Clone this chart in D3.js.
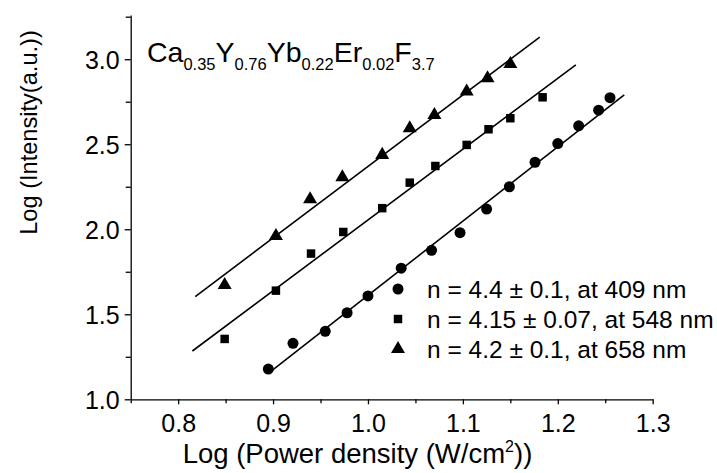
<!DOCTYPE html>
<html>
<head>
<meta charset="utf-8">
<script src="https://cdn.jsdelivr.net/npm/d3@7"></script>
<style>
  body { margin: 0; background: #fff; }
  svg { font-family: "Liberation Sans", Arial, sans-serif; }
</style>
</head>
<body>
<svg id="chart" width="717" height="473"></svg>
<script>
// data
const circleX = [0.895, 0.921, 0.955, 0.978, 1.000, 1.035, 1.067, 1.097, 1.125, 1.149, 1.176, 1.200, 1.222, 1.243, 1.255];
const circleY = [1.178, 1.329, 1.400, 1.509, 1.608, 1.771, 1.876, 1.980, 2.119, 2.250, 2.394, 2.504, 2.608, 2.700, 2.774];
const squareX = [0.849, 0.903, 0.940, 0.974, 1.015, 1.044, 1.071, 1.104, 1.127, 1.150, 1.184];
const squareY = [1.355, 1.639, 1.857, 1.984, 2.124, 2.274, 2.372, 2.496, 2.588, 2.653, 2.776];
const triX = [0.849, 0.903, 0.939, 0.973, 1.015, 1.044, 1.070, 1.104, 1.126, 1.150];
const triY = [1.672, 1.960, 2.176, 2.306, 2.437, 2.594, 2.672, 2.810, 2.888, 2.972];

// fitted lines, end points
const circleFit = [[0.895, 1.153], [1.270, 2.790]];
const squareFit = [[0.815, 1.284], [1.219, 2.967]];
const triFit = [[0.818, 1.604], [1.181, 3.130]];

const xTicks = [0.8, 0.9, 1.0, 1.1, 1.2, 1.3];
const xMinor = [0.75, 0.85, 0.95, 1.05, 1.15, 1.25];
const yTicks = [1.0, 1.5, 2.0, 2.5, 3.0];
const yMinor = [1.25, 1.75, 2.25, 2.75, 3.25];

const legendLabels = ["n = 4.4 \u00b1 0.1, at 409 nm", "n = 4.15 \u00b1 0.07, at 548 nm", "n = 4.2 \u00b1 0.1, at 658 nm"];
const legendSymbols = ["circle", "square", "triangle"];

const svg = d3.select("#chart");
const margin = {left: 130.7, right: 652.7, top: 15, bottom: 399.3};

const x = d3.scaleLinear().domain([0.75, 1.3]).range([margin.left, margin.right]);
const y = d3.scaleLinear().domain([1.0, 3.26]).range([margin.bottom, margin.top]);

// axes
const xAxisG = svg.append("g").attr("transform", "translate(0," + margin.bottom + ")");
xAxisG.call(d3.axisBottom(x).tickValues(xTicks).tickFormat(d3.format(".1f")).tickSizeInner(5).tickSizeOuter(0).tickPadding(10));
const xMinorG = svg.append("g").attr("transform", "translate(0," + margin.bottom + ")");
xMinorG.call(d3.axisBottom(x).tickValues(xMinor).tickFormat("").tickSizeInner(4).tickSizeOuter(0));
xMinorG.select(".domain").remove();

const yAxisG = svg.append("g").attr("transform", "translate(" + margin.left + ",0)");
yAxisG.call(d3.axisLeft(y).tickValues(yTicks).tickFormat(d3.format(".1f")).tickSizeInner(6).tickSizeOuter(0).tickPadding(5));
const yMinorG = svg.append("g").attr("transform", "translate(" + margin.left + ",0)");
yMinorG.call(d3.axisLeft(y).tickValues(yMinor).tickFormat("").tickSizeInner(5).tickSizeOuter(0));
yMinorG.select(".domain").remove();

svg.selectAll(".domain, .tick line").attr("stroke", "#000").attr("stroke-width", 1.3);
svg.selectAll(".tick text").attr("font-size", 25).attr("fill", "#000")
  .attr("font-family", "'Liberation Sans', Arial, sans-serif");
yAxisG.selectAll(".tick text").attr("dy", "0.36em");

// axis titles
const xTitle = svg.append("text")
  .attr("x", 357.5).attr("y", 463)
  .attr("text-anchor", "middle").attr("font-size", 27.5);
xTitle.append("tspan").text("Log (Power density (W/cm");
xTitle.append("tspan").attr("font-size", 16).attr("dy", -11).text("2");
xTitle.append("tspan").attr("dy", 11).text("))");

svg.append("text")
  .attr("transform", "translate(37,132.5) rotate(-90)")
  .attr("text-anchor", "middle").attr("font-size", 23.6)
  .text("Log (Intensity(a.u.))");

// compound formula
const formula = [["Ca", "0.35"], ["Y", "0.76"], ["Yb", "0.22"], ["Er", "0.02"], ["F", "3.7"]];
const title = svg.append("text").attr("x", 147).attr("y", 62).attr("font-size", 28.5);
formula.forEach(function(p, i) {
  title.append("tspan").attr("dy", i === 0 ? 0 : -8).text(p[0]);
  title.append("tspan").attr("font-size", 16.5).attr("dy", 8).text(p[1]);
});

// fit lines
const line = d3.line().x(d => x(d[0])).y(d => y(d[1]));
[circleFit, squareFit, triFit].forEach(function(f) {
  svg.append("path").attr("d", line(f)).attr("fill", "none").attr("stroke", "#000").attr("stroke-width", 1.6);
});

const sym = {
  circle: d3.symbol().type(d3.symbolCircle).size(95),
  square: d3.symbol().type(d3.symbolSquare).size(72),
  triangle: d3.symbol().type(d3.symbolTriangle).size(85)
};

function drawPoints(xs, ys, kind) {
  svg.append("g").selectAll("path")
    .data(xs.map((v, i) => [v, ys[i]]))
    .join("path")
    .attr("transform", d => "translate(" + x(d[0]) + "," + y(d[1]) + ")")
    .attr("d", sym[kind]())
    .attr("fill", "#000");
}
drawPoints(circleX, circleY, "circle");
drawPoints(squareX, squareY, "square");
drawPoints(triX, triY, "triangle");

// legend
const leg = svg.append("g");
legendLabels.forEach(function(lbl, i) {
  const cy = 289 + i * 30;
  leg.append("path").attr("transform", "translate(398," + cy + ")").attr("d", sym[legendSymbols[i]]()).attr("fill", "#000");
  leg.append("text").attr("x", 427).attr("y", cy + 9).attr("font-size", 24.5).text(lbl);
});
</script>
</body>
</html>
